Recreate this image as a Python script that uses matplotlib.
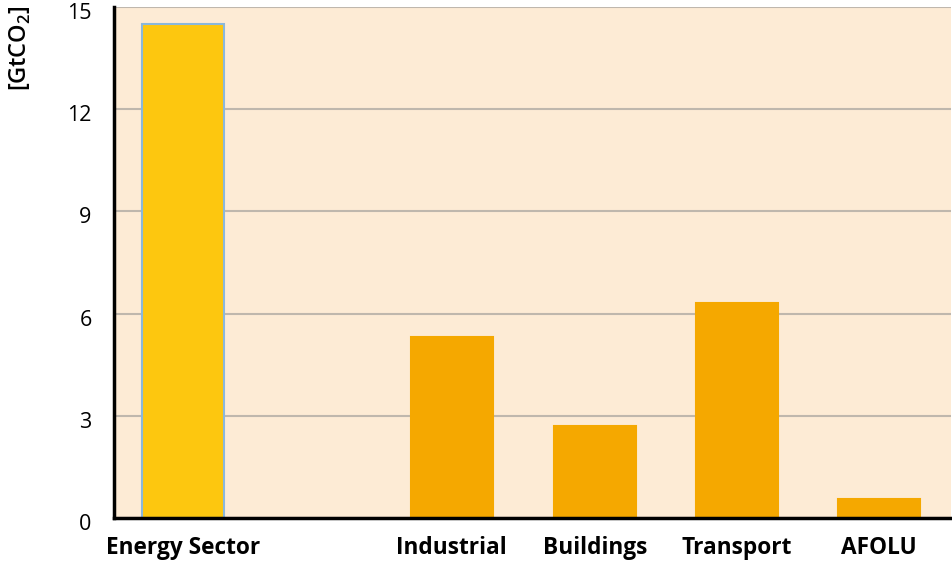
import matplotlib.pyplot as plt
import matplotlib.transforms as mtransforms

sectors = ['Energy Sector', 'Industrial', 'Buildings', 'Transport', 'AFOLU']
emissions = [14.5, 5.3, 2.7, 6.3, 0.55]
xpos = [0, 1.88, 2.88, 3.875, 4.87]
bar_colors = ['#fdc70f', '#f5a800', '#f5a800', '#f5a800', '#f5a800']
edge_colors = ['#8ab8dc', '#f5a800', '#f5a800', '#f5a800', '#f5a800']
yticks = [0, 3, 6, 9, 12, 15]

plt.rcParams['font.family'] = ['Open Sans', 'DejaVu Sans']
plt.rcParams['mathtext.fontset'] = 'custom'
plt.rcParams['mathtext.rm'] = 'Open Sans:semibold'

fig = plt.figure(figsize=(9.52, 5.61), dpi=100)
ax = fig.add_axes([0.1197, 0.0766, 0.879, 0.9109])
ax.set_facecolor('#fdebd5')

ax.bar(xpos, emissions, width=0.575, color=bar_colors, edgecolor=edge_colors,
       linewidth=1.5, zorder=3)

ax.set_xlim(-0.483, 5.37)
ax.set_ylim(0, 15)
ax.set_yticks(yticks)
ax.set_yticklabels([str(t) for t in yticks], fontsize=15.5)
ax.set_xticks(xpos)
ax.set_xticklabels(sectors, fontsize=16.3, fontweight='bold')
ax.tick_params(axis='both', length=0, colors='black')
ax.tick_params(axis='y', pad=16)
ax.tick_params(axis='x', pad=13)

# labels on the y axis sit a little below their gridlines
shift = mtransforms.ScaledTranslation(0, -0.04, fig.dpi_scale_trans)
for lab in ax.get_yticklabels():
    lab.set_transform(lab.get_transform() + shift)

ax.grid(axis='y', color='#bfb7ad', linewidth=1.5, zorder=1)
ax.spines['top'].set_visible(False)
ax.spines['right'].set_visible(False)
ax.spines['left'].set_linewidth(2.5)
ax.spines['bottom'].set_linewidth(2.5)
ax.spines['left'].set_zorder(4)
ax.spines['bottom'].set_zorder(4)

fig.text(0.021, 0.99, '[GtCO$_2$]', rotation=90, fontsize=17,
         fontweight='semibold', ha='center', va='top')

plt.savefig('out.png', dpi=100)
